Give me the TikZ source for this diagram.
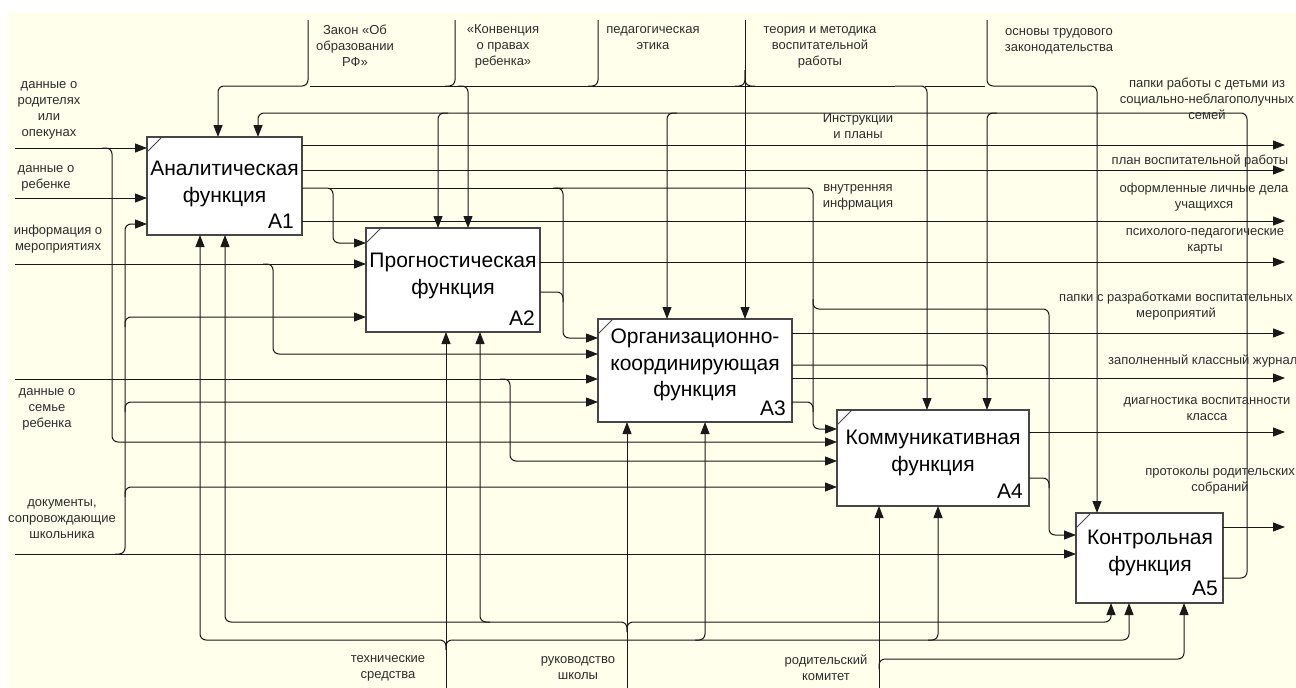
\documentclass[tikz,border=0pt]{standalone}
\usepackage{fontspec}
\setmainfont{Liberation Sans}
\usetikzlibrary{arrows.meta}
\definecolor{bgc}{RGB}{255,255,235}
\definecolor{ln}{RGB}{25,25,25}
\definecolor{bx}{RGB}{70,70,70}
\definecolor{tx}{RGB}{45,45,45}
\begin{document}
\begin{tikzpicture}[x=1pt,y=-1pt,
 box/.style={draw=bx,fill=white,line width=1.2pt,inner sep=0pt,outer sep=0pt,anchor=north west},
 ttl/.style={font=\fontsize{21}{26.5}\selectfont,align=center,inner sep=0pt},
 num/.style={font=\fontsize{21}{26}\selectfont,anchor=base east,inner sep=0pt},
 lbl/.style={font=\fontsize{13}{16}\selectfont,align=center,inner sep=0pt,text=tx},
 wire/.style={draw=ln,line width=1pt,rounded corners=6pt},
 arr/.style={wire,-{Triangle[length=12pt,width=9pt]}},
]
\useasboundingbox (0,0) rectangle (1296,688);
\fill[white] (0,0) rectangle (1296,688);
\fill[bgc] (8,12) rectangle (1296,688);

% boxes
\node[box,minimum width=155pt,minimum height=98pt] (A1) at (147,137) {};
\node[box,minimum width=174pt,minimum height=104pt] (A2) at (366,228) {};
\node[box,minimum width=194pt,minimum height=103pt] (A3) at (598,319) {};
\node[box,minimum width=192pt,minimum height=96pt] (A4) at (837,410) {};
\node[box,minimum width=147pt,minimum height=90pt] (A5) at (1076,513) {};
\foreach \b in {A1,A2,A3,A4,A5}
  \draw[bx,line width=0.8pt] ([yshift=-15pt]\b.north west) -- ([xshift=15pt]\b.north west);

\node[ttl] (T1) at (224.5,184) {Аналитическая\\функция};
\node[num] (N1) at (294,228) {A1};
\node[ttl] (T2) at (453,276) {Прогностическая\\функция};
\node[num] (N2) at (535,325) {A2};
\node[ttl] (T3) at (695,365) {Организационно-\\координирующая\\функция};
\node[num] (N3) at (786,415) {A3};
\node[ttl] (T4) at (933,453) {Коммуникативная\\функция};
\node[num] (N4) at (1023,498) {A4};
\node[ttl] (T5) at (1150,553) {Контрольная\\функция};
\node[num] (N5) at (1218,595) {A5};

% coordinates of free ends
\coordinate (c1) at (308,20);
\coordinate (c2) at (455,20);
\coordinate (c3) at (598,20);
\coordinate (c4) at (745,20);
\coordinate (c5) at (987,20);
\coordinate (i1) at (15,148);
\coordinate (i2) at (15,198);
\coordinate (i3) at (15,264);
\coordinate (i4) at (15,379);
\coordinate (i5) at (15,554);
\coordinate (m1) at (446,688);
\coordinate (m2) at (627,688);
\coordinate (m3) at (879,688);

% control bus y=86
\draw[arr] (c1) -- (308,86) -- (218,86) -- (A1.north -| 218,0);
\draw[wire] (310,86) -- (895,86);
\draw[wire] (c2) -- (455,86) -- (445,86);
\draw[arr] (458,86) -- (468,86) -- (A2.north -| 468,0);
\draw[wire] (c3) -- (598,86) -- (588,86);
\draw[arr] (c4) -- (A3.north -| c4);
\draw[wire] (745,70) -- (745,86) -- (735,86);
\draw[wire] (745,70) -- (745,86) -- (755,86);
\draw[arr] (895,86) -- (927,86) -- (A4.north -| 927,0);
\draw[wire] (925,86) -- (985,86);
\draw[arr] (c5) -- (987,86) -- (1097,86) -- (A5.north -| 1097,0);

% feedback bus y=113
\draw[arr] (A5.east |- 0,578) -- (1247,578) -- (1247,113) -- (258,113) -- (A1.north -| 258,0);
\draw[arr] (448,113) -- (438,113) -- (A2.north -| 438,0);
\draw[arr] (677,113) -- (667,113) -- (A3.north -| 667,0);
\draw[arr] (997,113) -- (987,113) -- (A4.north -| 987,0);
\draw[wire] (A3.east |- 0,365) -- (987,365) -- (987,375);

% internal links
\draw[arr] (A1.east |- 0,188) -- (333,188) -- (333,243) -- (A2.west |- 0,243);
\draw[wire] (328,188) -- (563,188);
\draw[arr] (553,188) -- (563,188) -- (563,338) -- (A3.west |- 0,338);
\draw[arr] (555,188) -- (813,188) -- (813,429) -- (A4.west |- 0,429);
\draw[arr] (813,299) -- (813,309) -- (1049,309) -- (1049,535) -- (A5.west |- 0,535);
\draw[wire] (A2.east |- 0,292) -- (563,292) -- (563,302);
\draw[wire] (A3.east |- 0,402) -- (813,402) -- (813,412);
\draw[wire] (A4.east |- 0,478) -- (1049,478) -- (1049,488);

% outputs
\draw[arr] (A1.east |- 0,145) -- (1285,145);
\draw[arr] (A1.east |- 0,170) -- (1285,170);
\draw[arr] (A1.east |- 0,221) -- (1285,221);
\draw[arr] (A2.east |- 0,262) -- (1285,262);
\draw[arr] (A3.east |- 0,333) -- (1285,333);
\draw[arr] (A3.east |- 0,378) -- (1285,378);
\draw[arr] (A4.east |- 0,432) -- (1285,432);
\draw[arr] (A5.east |- 0,527) -- (1285,527);

% inputs
\draw[arr] (i1) -- (A1.west |- i1);
\draw[arr] (102,148) -- (112,148) -- (112,442) -- (A4.west |- 0,442);
\draw[arr] (i2) -- (A1.west |- i2);
\draw[arr] (i3) -- (A2.west |- i3);
\draw[arr] (263,264) -- (273,264) -- (273,354) -- (A3.west |- 0,354);
\draw[arr] (i4) -- (A3.west |- i4);
\draw[arr] (500,379) -- (510,379) -- (510,461) -- (A4.west |- 0,461);
\draw[arr] (i5) -- (A5.west |- i5);
\draw[arr] (115,554) -- (125,554) -- (125,224) -- (A1.west |- 0,224);
\draw[arr] (125,327) -- (125,317) -- (A2.west |- 0,317);
\draw[arr] (125,412) -- (125,402) -- (A3.west |- 0,402);
\draw[arr] (125,497) -- (125,487) -- (A4.west |- 0,487);

% mechanisms
\draw[arr] (m1) -- (A2.south -| m1);
\draw[arr] (446,650) -- (446,640) -- (200,640) -- (A1.south -| 200,0);
\draw[arr] (446,650) -- (446,640) -- (1129,640) -- (A5.south -| 1129,0);
\draw[arr] (695,640) -- (705,640) -- (A3.south -| 705,0);
\draw[arr] (928,640) -- (938,640) -- (A4.south -| 938,0);
\draw[arr] (m2) -- (A3.south -| m2);
\draw[arr] (627,632) -- (627,622) -- (225,622) -- (A1.south -| 225,0);
\draw[arr] (490,622) -- (480,622) -- (A2.south -| 480,0);
\draw[arr] (627,632) -- (627,622) -- (1111,622) -- (A5.south -| 1111,0);
\draw[arr] (m3) -- (A4.south -| m3);
\draw[arr] (879,669) -- (879,659) -- (1184,659) -- (A5.south -| 1184,0);

% labels: inputs
\node[lbl] (L1) at (49,110) {данные о\\родителях\\или\\опекунах};
\node[lbl] (L2) at (46,178) {данные о\\ребенке};
\node[lbl] (L3) at (58,239) {информация о\\мероприятиях};
\node[lbl] (L4) at (47,409) {данные о\\семье\\ребенка};
\node[lbl] (L5) at (62,519) {документы,\\сопровождающие\\школьника};
% labels: controls
\node[lbl] (K1) at (355,46) {Закон «Об\\образовании\\РФ»};
\node[lbl] (K2) at (503,46) {«Конвенция\\о правах\\ребенка»};
\node[lbl] (K3) at (653,38) {педагогическая\\этика};
\node[lbl] (K4) at (820,47) {теория и методика\\воспитательной\\работы};
\node[lbl] (K5) at (1059,41) {основы трудового\\законодательства};
% labels: internal
\node[lbl] (R1) at (858,126) {Инструкции\\и планы};
\node[lbl] (R2) at (858,197) {внутренняя\\инфрмация};
% labels: outputs
\node[lbl] (O1) at (1207,99) {папки работы с детьми из\\социально-неблагополучных\\семей};
\node[lbl] (O2) at (1200,161) {план воспитательной работы};
\node[lbl] (O3) at (1204,197) {оформленные личные дела\\учащихся};
\node[lbl] (O4) at (1205,241) {психолого-педагогические\\карты};
\node[lbl] (O5) at (1176,306) {папки с разработками воспитательных\\мероприятий};
\node[lbl,anchor=west] (O6) at (1108,361) {заполненный классный журнал};
\node[lbl] (O7) at (1207,409) {диагностика воспитанности\\класса};
\node[lbl] (O8) at (1220,481) {протоколы родительских\\собраний};
% labels: mechanisms
\node[lbl] (M1) at (388,668) {технические\\средства};
\node[lbl] (M2) at (578,668) {руководство\\школы};
\node[lbl] (M3) at (826,668) {родительский\\комитет};
\end{tikzpicture}
\end{document}
